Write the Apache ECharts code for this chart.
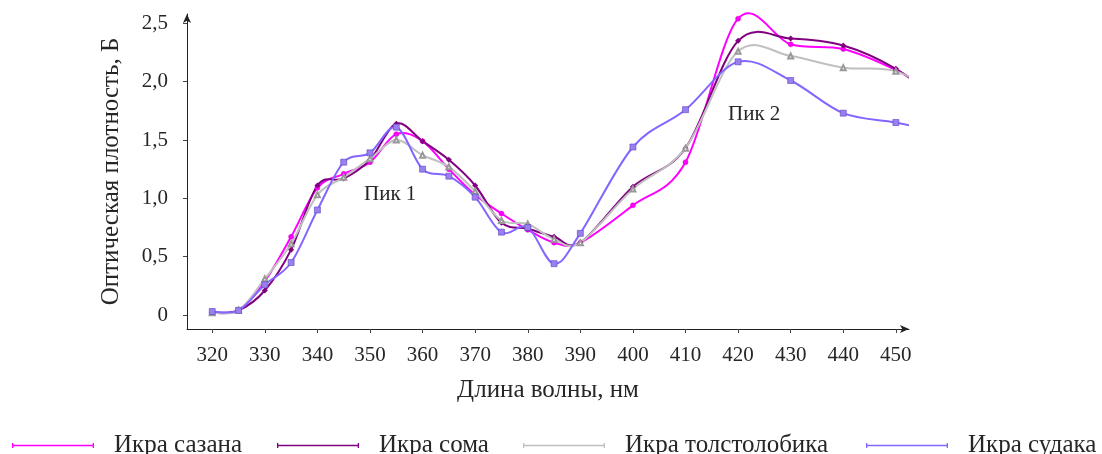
<!DOCTYPE html>
<html>
<head>
<meta charset="utf-8">
<script src="https://cdn.jsdelivr.net/npm/echarts@6/dist/echarts.min.js"></script>
<style>
html,body{margin:0;padding:0;background:#fff;}
#chart{width:1102px;height:454px;}
</style>
</head>
<body>
<div id="chart"></div>
<script>
// ---- data ----
const wavelengths = [320,325,330,335,340,345,350,355,360,365,370,375,380,385,390,400,410,420,430,440,450,460];
const seriesNames = ['Икра сазана','Икра сома','Икра толстолобика','Икра судака'];
const sazan   = [0.02,0.04,0.29,0.67,1.09,1.21,1.31,1.55,1.49,1.25,1.03,0.87,0.73,0.62,0.62,0.94,1.31,2.54,2.32,2.28,2.10,1.85];
const som     = [0.02,0.04,0.21,0.56,1.11,1.17,1.33,1.64,1.49,1.33,1.11,0.79,0.74,0.67,0.62,1.10,1.43,2.35,2.37,2.31,2.11,1.78];
const tolst   = [0.02,0.04,0.31,0.61,1.03,1.18,1.34,1.50,1.37,1.27,1.06,0.81,0.78,0.65,0.62,1.08,1.43,2.26,2.22,2.12,2.09,1.85];
const sudak   = [0.03,0.04,0.26,0.45,0.90,1.31,1.39,1.61,1.25,1.19,1.01,0.71,0.75,0.44,0.70,1.44,1.76,2.17,2.01,1.73,1.65,1.55];
const xTicks = [320,330,340,350,360,370,380,390,400,410,420,430,440,450];
const yTicks = [0,0.5,1,1.5,2,2.5];
const peakLabels = ['Пик 1','Пик 2'];

const FONT = '"Liberation Serif","Times New Roman",serif';
const TXT = '#262626';
const pairs = arr => wavelengths.map((w,i)=>[w,arr[i]]);
const datasets = [sazan, som, tolst, sudak];

const styles = [
  {color:'#ff00ff', symbol:'circle', size:5, fill:'#ff00ff', border:'#d000d0', bw:0.5},
  {color:'#800080', symbol:'diamond', size:6, fill:'#800080', border:'#600060', bw:0},
  {color:'#c0c0c0', symbol:'emptyTriangle', size:5, fill:'#999999', border:'#999999', bw:0.6},
  {color:'#8466ff', symbol:'rect', size:6, fill:'#9a80ee', border:'#5b43c4', bw:0.6}
];

// Smooth curve (Catmull-Rom style, like spreadsheet "smoothed line") drawn through
// the axis scales: every point is converted with api.coord.
function makeRender(arr, color){
  return function(params, api){
    if (params.dataIndex !== 0) return null;
    const pts = wavelengths.map((w,i)=>api.coord([w, arr[i]]));
    const t = 1/6;
    let d = 'M' + pts[0][0] + ',' + pts[0][1];
    for (let i=0;i<pts.length-1;i++){
      const p0 = pts[i-1] || pts[i], p1 = pts[i], p2 = pts[i+1], p3 = pts[i+2] || pts[i+1];
      const c1x = p1[0] + (p2[0]-p0[0])*t, c1y = p1[1] + (p2[1]-p0[1])*t;
      const c2x = p2[0] - (p3[0]-p1[0])*t, c2y = p2[1] - (p3[1]-p1[1])*t;
      d += ' C' + c1x + ',' + c1y + ' ' + c2x + ',' + c2y + ' ' + p2[0] + ',' + p2[1];
    }
    const cs = params.coordSys;
    return {
      type:'group',
      clipPath:{type:'rect', shape:{x:cs.x, y:cs.y - 20, width:cs.width, height:cs.height + 20}},
      children:[{
        type:'path', shape:{pathData:d},
        style:{fill:null, stroke:color, lineWidth:2}
      }]
    };
  };
}

const chart = echarts.init(document.getElementById('chart'));
const legendIcon = 'path://M0,2h100v2h-100z M0,0h1.6v6h-1.6z M98.4,0h1.6v6h-1.6z';
const legendLefts = [7,272,518,861];

const curveSeries = seriesNames.map((n,i)=>({
  name:'curve'+i, type:'custom', data:[[wavelengths[0], datasets[i][0]]],
  renderItem: makeRender(datasets[i], styles[i].color),
  silent:true, z:2
}));
const markerSeries = seriesNames.map((n,i)=>({
  name:n, type:'line', data:pairs(datasets[i]),
  symbol:styles[i].symbol, symbolSize:styles[i].size, showSymbol:true,
  lineStyle:{width:0, opacity:0},
  itemStyle:{color:styles[i].fill, borderColor:styles[i].border, borderWidth:styles[i].bw},
  emphasis:{disabled:true}, z:3, clip:true
}));

chart.setOption({
  animation:false,
  grid:{left:187, width:722, top:14, bottom:125},
  xAxis:{
    type:'value', min:315.2, max:452.5,
    axisLine:{onZero:false, lineStyle:{color:'#222', width:1}, symbol:['none','arrow'], symbolSize:[6,9]},
    axisTick:{show:true, length:4, customValues:xTicks, lineStyle:{color:'#444'}},
    axisLabel:{customValues:xTicks, margin:16, color:TXT, fontFamily:FONT, fontSize:21},
    splitLine:{show:false},
    name:'Длина волны, нм', nameLocation:'middle', nameGap:49,
    nameTextStyle:{color:TXT, fontFamily:FONT, fontSize:25}
  },
  yAxis:{
    type:'value', min:-0.12, max:2.58,
    axisLine:{show:true, onZero:false, lineStyle:{color:'#222', width:1}, symbol:['none','arrow'], symbolSize:[6,9]},
    axisTick:{show:true, length:4, customValues:yTicks, lineStyle:{color:'#444'}},
    axisLabel:{customValues:yTicks, margin:19, color:TXT, fontFamily:FONT, fontSize:21,
      formatter:v=> v===0 ? '0' : v.toFixed(1).replace('.',',')},
    splitLine:{show:false},
    name:'Оптическая плотность, Б', nameLocation:'middle', nameGap:63,
    nameTextStyle:{color:TXT, fontFamily:FONT, fontSize:25}
  },
  legend: seriesNames.map((n,i)=>({
    data:[{name:n, itemStyle:{color:styles[i].color, borderWidth:0}}],
    left:legendLefts[i], top:428, icon:legendIcon, itemWidth:82, itemHeight:6,
    textStyle:{color:TXT, fontFamily:FONT, fontSize:25, padding:[0,0,0,15]},
    selectedMode:false
  })),
  series: curveSeries.concat(markerSeries),
  graphic:[
    {type:'text', left:364, top:184, style:{text:peakLabels[0], fill:TXT, font:'21px '+FONT}},
    {type:'text', left:728, top:104, style:{text:peakLabels[1], fill:TXT, font:'21px '+FONT}}
  ]
});
</script>
</body>
</html>
